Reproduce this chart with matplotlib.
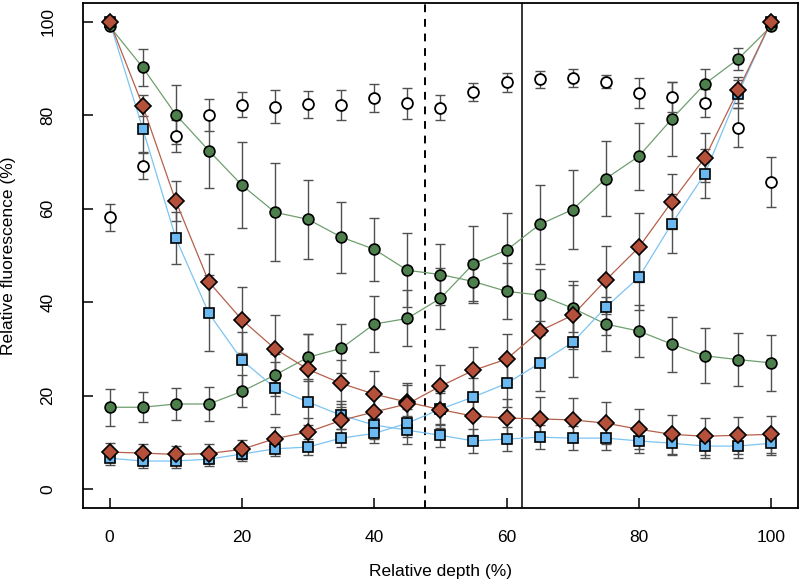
import matplotlib
matplotlib.use("Agg")
import matplotlib.pyplot as plt

plt.rcParams['font.family'] = ['Liberation Sans', 'DejaVu Sans']

depth = [0, 5, 10, 15, 20, 25, 30, 35, 40, 45, 50, 55, 60, 65, 70, 75, 80, 85, 90, 95, 100]

# open circles (no line)
open_mean = [58.1, 69.2, 75.5, 80.0, 82.2, 81.8, 82.3, 82.2, 83.6, 82.5, 81.6,
             85.0, 87.0, 87.7, 88.0, 87.1, 84.8, 83.8, 82.5, 77.3, 65.7]
open_err = [2.8, 2.8, 3.4, 3.4, 2.7, 3.5, 2.9, 3.2, 3.0, 3.3, 2.6,
            1.9, 2.0, 1.8, 1.9, 1.4, 3.2, 3.2, 3.0, 4.2, 5.4]

# green circles
green_down = [99.0, 90.2, 80.1, 72.4, 65.0, 59.2, 57.7, 53.9, 51.3, 46.8, 45.9,
              44.4, 42.3, 41.5, 38.7, 35.3, 33.8, 31.0, 28.5, 27.7, 27.0]
green_down_err = [0.0, 4.0, 6.3, 8.0, 9.2, 10.5, 8.5, 7.6, 6.7, 7.9, 6.6,
                  4.5, 6.0, 5.5, 5.0, 5.8, 5.5, 5.9, 5.9, 5.6, 6.0]
green_up = [17.5, 17.5, 18.2, 18.2, 20.9, 24.4, 28.2, 30.1, 35.3, 36.5, 40.8,
            48.2, 51.1, 56.6, 59.8, 66.4, 71.2, 79.2, 86.7, 92.0, 99.0]
green_up_err = [4.0, 3.2, 3.5, 3.6, 3.4, 4.5, 5.0, 5.3, 6.0, 6.0, 6.5,
                8.0, 7.9, 8.4, 8.5, 8.0, 7.2, 7.9, 3.2, 2.4, 0.0]

# red diamonds
red_down = [100.0, 82.0, 61.6, 44.3, 36.2, 30.0, 25.6, 22.6, 20.3, 18.6, 17.0,
            15.6, 15.2, 15.0, 14.8, 14.1, 12.8, 11.7, 11.3, 11.5, 11.7]
red_down_err = [0.0, 2.2, 4.3, 6.0, 7.0, 7.3, 7.5, 5.0, 5.0, 4.0, 4.0,
                4.0, 4.0, 4.7, 4.7, 4.5, 4.3, 4.1, 4.0, 4.0, 4.0]
red_up = [7.9, 7.7, 7.4, 7.6, 8.5, 10.8, 12.2, 14.7, 16.5, 18.2, 22.0,
          25.4, 27.8, 33.8, 37.2, 44.7, 51.7, 61.5, 70.9, 85.3, 100.0]
red_up_err = [2.0, 2.0, 1.8, 2.0, 2.0, 2.5, 3.0, 3.5, 3.5, 4.0, 4.5,
              5.0, 5.3, 7.0, 7.3, 7.3, 7.3, 5.8, 5.3, 2.8, 0.0]

# blue squares
blue_down = [100.0, 77.1, 53.7, 37.6, 27.6, 21.6, 18.6, 15.8, 13.7, 12.6, 11.5,
             10.3, 10.7, 11.1, 10.9, 10.9, 10.3, 9.8, 9.2, 9.2, 9.8]
blue_down_err = [0.0, 5.0, 5.5, 8.1, 6.0, 5.5, 5.0, 3.0, 3.0, 3.0, 2.5,
                 2.5, 2.5, 2.5, 2.5, 2.5, 2.5, 2.5, 2.5, 2.5, 2.5]
blue_up = [6.6, 6.0, 6.0, 6.4, 7.5, 8.6, 9.0, 10.9, 11.9, 14.1, 17.1,
           19.7, 22.6, 26.9, 31.4, 38.9, 45.3, 56.8, 67.5, 84.6, 100.0]
blue_up_err = [1.5, 1.5, 1.5, 1.5, 1.5, 1.5, 1.8, 2.0, 2.0, 3.0, 3.5,
               4.0, 5.0, 6.0, 7.5, 6.0, 7.0, 6.4, 5.3, 3.0, 0.0]

dashed_x = 47.7
solid_x = 62.3

GREEN = "#4d7f4d"
GREEN_LINE = "#6f9f6f"
RED = "#b5503a"
RED_LINE = "#b5604a"
BLUE = "#6cb8f0"
BLUE_LINE = "#7cc4f2"
ERR = "#505050"

fig = plt.figure(figsize=(8.0, 5.87), dpi=100)
ax = fig.add_axes([0.104, 0.135, 0.893, 0.860])

def err(y, e):
    ax.errorbar(depth, y, yerr=e, fmt="none", ecolor=ERR, elinewidth=1.0,
                capsize=3.3, capthick=1.0, zorder=1)

for y, e in [(open_mean, open_err), (green_down, green_down_err), (green_up, green_up_err),
             (red_down, red_down_err), (red_up, red_up_err),
             (blue_down, blue_down_err), (blue_up, blue_up_err)]:
    err(y, e)

ax.plot(depth, open_mean, "o", ms=7.8, mfc="white", mec="black", mew=1.3, zorder=3)

for y in (green_down, green_up):
    ax.plot(depth, y, "-", color=GREEN_LINE, lw=0.9, zorder=2)
    ax.plot(depth, y, "o", ms=7.8, mfc=GREEN, mec="black", mew=1.2, zorder=3)

for y in (blue_down, blue_up):
    ax.plot(depth, y, "-", color=BLUE_LINE, lw=0.9, zorder=2)
    ax.plot(depth, y, "s", ms=6.8, mfc=BLUE, mec="black", mew=1.2, zorder=4)

for y in (red_down, red_up):
    ax.plot(depth, y, "-", color=RED_LINE, lw=0.9, zorder=2)
    ax.plot(depth, y, "D", ms=7.8, mfc=RED, mec="black", mew=1.2, zorder=5)

ax.axvline(dashed_x, color="black", lw=1.4, ls=(0, (4, 3.5)), zorder=1)
ax.axvline(solid_x, color="black", lw=1.1, zorder=1)

ax.set_xlim(-4, 104)
ax.set_ylim(-4, 104)
ax.set_xticks([0, 20, 40, 60, 80, 100])
ax.set_yticks([0, 20, 40, 60, 80, 100])
ax.tick_params(direction="in", length=7, width=1.1, labelsize=12.5, color="black")
ax.tick_params(axis="x", pad=16)
ax.tick_params(axis="y", pad=20)
for lab in ax.get_yticklabels():
    lab.set_rotation(90)
    lab.set_va("center")
for s in ax.spines.values():
    s.set_linewidth(1.3)

ax.set_xlabel("Relative depth (%)", fontsize=12.5, labelpad=14)
ax.set_ylabel("Relative fluorescence (%)", fontsize=12.5)
ax.yaxis.set_label_coords(-0.094, 0.5)

fig.savefig("out.png", dpi=100)
